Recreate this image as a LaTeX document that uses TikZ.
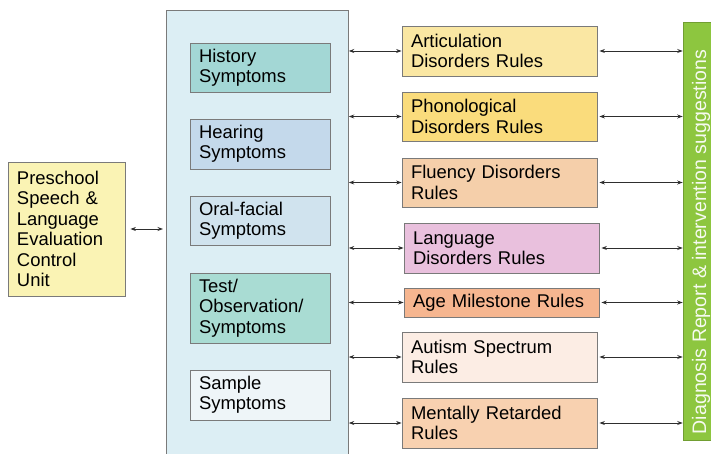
\documentclass[tikz,border=0pt]{standalone}
\usepackage{fontspec}
\setmainfont{Liberation Sans}
\usetikzlibrary{arrows.meta}
\definecolor{bordergray}{HTML}{7A7A7A}
\definecolor{lboxc}{HTML}{FAF3B4}
\definecolor{panelc}{HTML}{DCEEF4}
\definecolor{histc}{HTML}{A3D7D5}
\definecolor{hearc}{HTML}{C4D9EB}
\definecolor{oralc}{HTML}{D0E3EE}
\definecolor{testc}{HTML}{A9DCD3}
\definecolor{samplc}{HTML}{EEF5F8}
\definecolor{artc}{HTML}{FAE7A3}
\definecolor{phonc}{HTML}{FADC7C}
\definecolor{fluc}{HTML}{F5CFAA}
\definecolor{langc}{HTML}{E9C0DD}
\definecolor{agec}{HTML}{F6B690}
\definecolor{autc}{HTML}{FCEDE4}
\definecolor{mentc}{HTML}{F8D1B0}
\definecolor{greenc}{HTML}{8DC63F}
\definecolor{arrc}{HTML}{2E2E2E}
\newcommand\rbox[7]{%
  \pgfmathsetmacro\myBw{#4-#2}\pgfmathsetmacro\myBh{#5-#3}\pgfmathsetmacro\myTw{#4-#2-18}%
  \node[bx, fill=#6, minimum width=\myBw bp, minimum height=\myBh bp, text width=\myTw bp] (#1) at ({(#2+#4)/2},{(#3+#5)/2}) {#7};}
\begin{document}
\begin{tikzpicture}[x=1bp,y=-1bp,
  bx/.style={draw=bordergray, line width=0.8bp, inner xsep=9bp, inner ysep=0pt, align=left,
    font=\fontsize{18.5}{20.5}\selectfont},
  arr/.style={draw=arrc, line width=0.8bp, {Stealth[length=5.5bp,width=4bp]}-{Stealth[length=5.5bp,width=4bp]}}]
\useasboundingbox (0,0) rectangle (711,454);
\clip (0,0) rectangle (711,454);
% left control unit
\rbox{lbox}{8}{162}{125}{296}{lboxc}{Preschool\\Speech \&\\Language\\Evaluation\\Control\\Unit}
% big panel
\node[draw=bordergray, line width=0.8bp, fill=panelc, minimum width=182bp, minimum height=460bp,
  anchor=north west, inner sep=0pt] (panel) at (166,10) {};
% symptom boxes
\rbox{s1}{190}{43}{330}{92}{histc}{History\\Symptoms}
\rbox{s2}{190}{119}{330}{169}{hearc}{Hearing\\Symptoms}
\rbox{s3}{190}{196}{330}{245}{oralc}{Oral-facial\\Symptoms}
\rbox{s4}{190}{273}{330}{343}{testc}{Test/\\Observation/\\Symptoms}
\rbox{s5}{190}{370}{330}{420}{samplc}{Sample\\Symptoms}
% rule boxes
\rbox{r1}{402}{26}{597}{76}{artc}{Articulation\\Disorders Rules}
\rbox{r2}{402}{92}{597}{141}{phonc}{Phonological\\Disorders Rules}
\rbox{r3}{402}{158}{597}{207}{fluc}{Fluency Disorders\\Rules}
\rbox{r4}{404}{223}{599}{273}{langc}{Language\\Disorders Rules}
\rbox{r5}{404}{288}{599}{317}{agec}{Age Milestone Rules}
\rbox{r6}{402}{332}{597}{382}{autc}{Autism Spectrum\\Rules}
\rbox{r7}{402}{398}{597}{448}{mentc}{Mentally Retarded\\Rules}
% green report bar
\node[fill=greenc, draw=greenc!80!black, line width=0.6bp, rotate=90, minimum width=418bp, minimum height=36bp,
  inner sep=0pt, text=white!92!greenc, font=\fontsize{19.6}{21}\selectfont] (diag) at (701,231)
  {Diagnosis Report \& intervention suggestions\hspace*{22bp}\mbox{}};
% connectors
\draw[arr, shorten <=5bp, shorten >=3bp] (lbox.east) -- (panel.west |- lbox.east);
\foreach \r in {r1,r2,r3,r4,r5,r6,r7}{
  \draw[arr] (panel.east |- \r.west) -- (\r.west);
  \draw[arr, shorten <=2bp] (\r.east) -- (diag.north |- \r.east);
}
\end{tikzpicture}
\end{document}
